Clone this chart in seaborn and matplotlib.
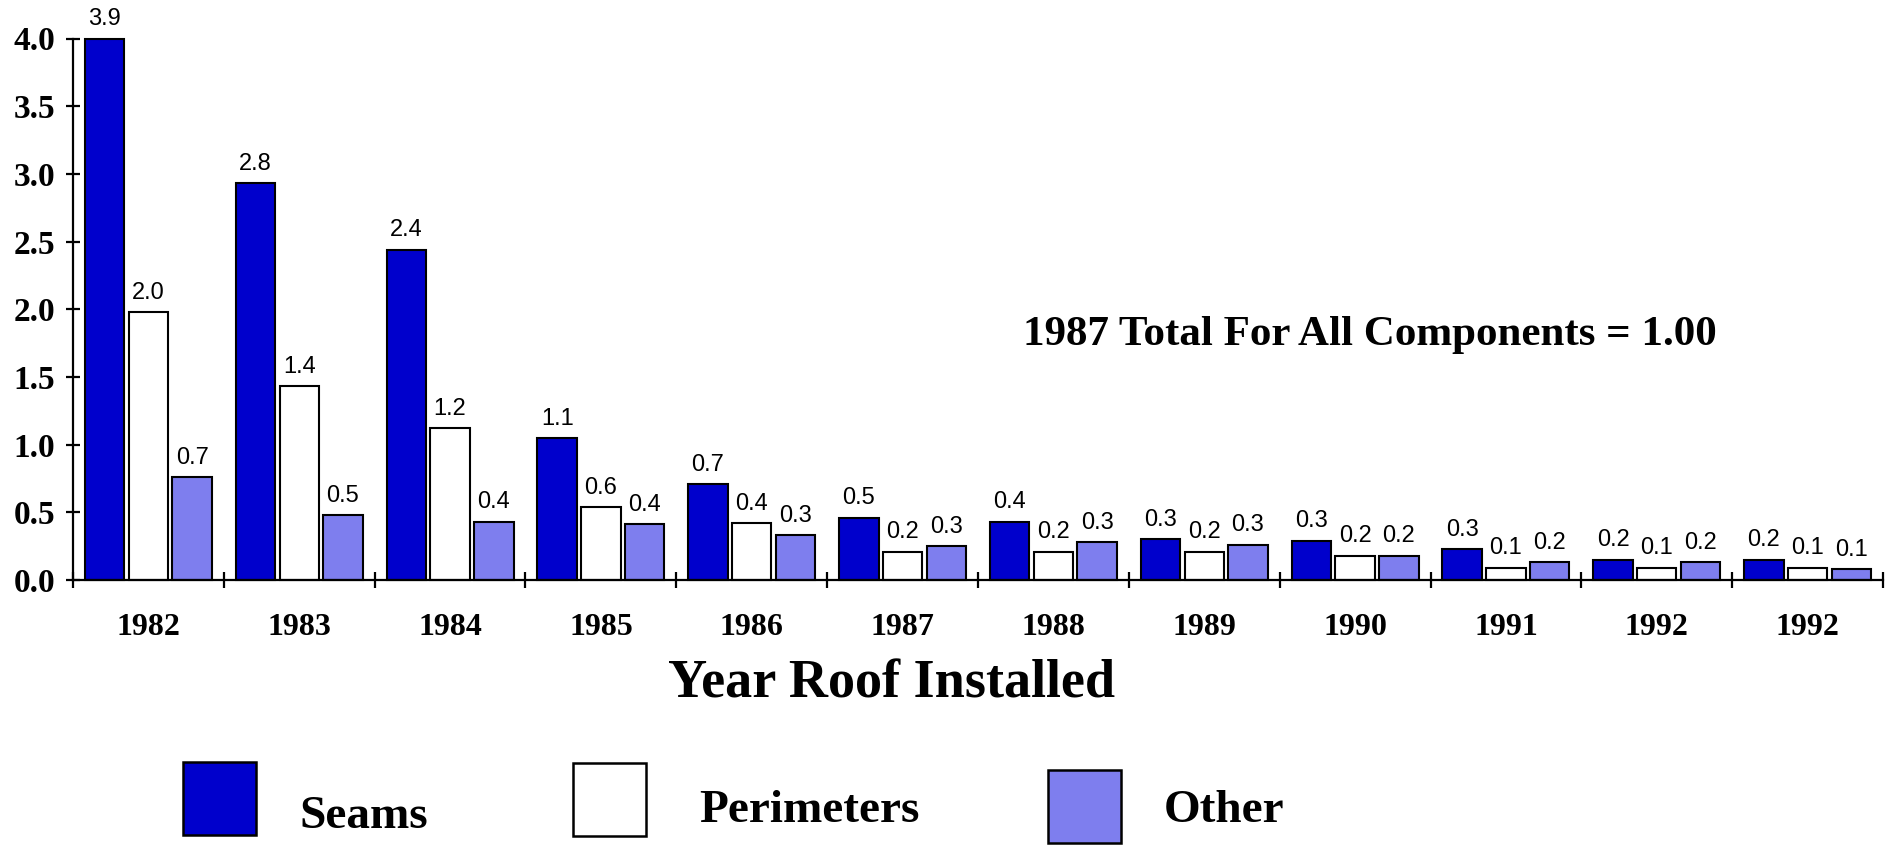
import matplotlib
matplotlib.use("Agg")
import matplotlib.pyplot as plt
from matplotlib.patches import Rectangle
import seaborn as sns
import pandas as pd
import numpy as np

# ── Data ─────────────────────────────────────────────────────────────────────
years = ["1982", "1983", "1984", "1985", "1986", "1987",
         "1988", "1989", "1990", "1991", "1992", "1992"]
components = ["Seams", "Perimeters", "Other"]

seams      = [4.00, 2.93, 2.44, 1.05, 0.71, 0.46, 0.43, 0.30, 0.29, 0.23, 0.15, 0.15]
perimeters = [1.98, 1.43, 1.12, 0.54, 0.42, 0.21, 0.21, 0.21, 0.18, 0.09, 0.09, 0.09]
other      = [0.76, 0.48, 0.43, 0.41, 0.33, 0.25, 0.28, 0.26, 0.18, 0.13, 0.13, 0.08]

# printed labels (the chart's own rounded values)
seams_lbl      = ["3.9", "2.8", "2.4", "1.1", "0.7", "0.5", "0.4", "0.3", "0.3", "0.3", "0.2", "0.2"]
perimeters_lbl = ["2.0", "1.4", "1.2", "0.6", "0.4", "0.2", "0.2", "0.2", "0.2", "0.1", "0.1", "0.1"]
other_lbl      = ["0.7", "0.5", "0.4", "0.4", "0.3", "0.3", "0.3", "0.3", "0.2", "0.2", "0.2", "0.1"]

y_ticks = [0.0, 0.5, 1.0, 1.5, 2.0, 2.5, 3.0, 3.5, 4.0]

COLORS = {"Seams": "#0000cc", "Perimeters": "#ffffff", "Other": "#7e7eee"}

# ── Style ────────────────────────────────────────────────────────────────────
sns.set_style("ticks")
plt.rcParams.update({
    "font.family": ["Liberation Serif", "DejaVu Serif"],
    "font.weight": "bold",
    "axes.linewidth": 1.6,
    "text.color": "black",
    "axes.edgecolor": "black",
    "axes.labelcolor": "black",
    "xtick.color": "black",
    "ytick.color": "black",
})

# long-form table for seaborn
df = pd.DataFrame({
    "group": np.repeat(np.arange(len(years)), 3),
    "component": components * len(years),
    "value": np.column_stack([seams, perimeters, other]).ravel(),
})

W, H = 1891, 850
fig = plt.figure(figsize=(W / 100, H / 100), dpi=100)
ax = fig.add_axes([73 / W, 1 - 580 / H, 1810 / W, 541.5 / H])

sns.barplot(data=df, x="group", y="value", hue="component",
            hue_order=components, palette=COLORS, errorbar=None,
            width=0.87, gap=0.1, edgecolor="black", linewidth=1.5,
            saturation=1, legend=False, ax=ax)

for bar in ax.patches:
    bar.set_clip_on(False)

for cont, lbls in zip(ax.containers, [seams_lbl, perimeters_lbl, other_lbl]):
    ax.bar_label(cont, labels=lbls, padding=6, fontsize=17,
                 fontweight="normal", family=["Liberation Sans", "DejaVu Sans"])

# axes
ax.set_xlim(-0.5, len(years) - 0.5)
ax.set_ylim(0, 4.0)
ax.set_yticks(y_ticks)
ax.set_yticklabels([f"{v:.1f}" for v in y_ticks])
ax.set_xticks(np.arange(len(years)))
ax.set_xticklabels(years)
ax.set_xticks(np.arange(len(years) + 1) - 0.5, minor=True)
ax.tick_params(axis="x", which="major", length=0, pad=24, labelsize=23)
ax.tick_params(axis="x", which="minor", length=11, width=1.6, direction="inout")
ax.tick_params(axis="y", length=10, width=1.6, direction="inout", pad=8, labelsize=24)
for lab in ax.get_xticklabels() + ax.get_yticklabels():
    lab.set_fontweight("bold")
ax.set_xlabel("")
ax.set_ylabel("")
sns.despine(ax=ax)

ax.text(0.7166, 0.4525, "1987 Total For All Components = 1.00",
        transform=ax.transAxes, ha="center", va="center",
        fontsize=31, fontweight="bold")

fig.text(892 / W, 1 - 697 / H, "Year Roof Installed",
         ha="center", va="baseline", fontsize=39, fontweight="bold")

# legend: big swatches with the names set a little lower, as in the original
legend_boxes = [(183, 762), (573, 763), (1048, 770)]   # swatch top-left, px
legend_text = [(299, 828), (699, 822), (1164, 822)]     # text left / baseline, px
SW = 73
for name, (bx, by), (tx, ty) in zip(components, legend_boxes, legend_text):
    fig.add_artist(Rectangle((bx / W, 1 - (by + SW) / H), SW / W, SW / H,
                             transform=fig.transFigure, facecolor=COLORS[name],
                             edgecolor="black", linewidth=1.8))
    fig.text(tx / W, 1 - ty / H, name, ha="left", va="baseline",
             fontsize=34, fontweight="bold")

fig.savefig("out.png", dpi=100)
